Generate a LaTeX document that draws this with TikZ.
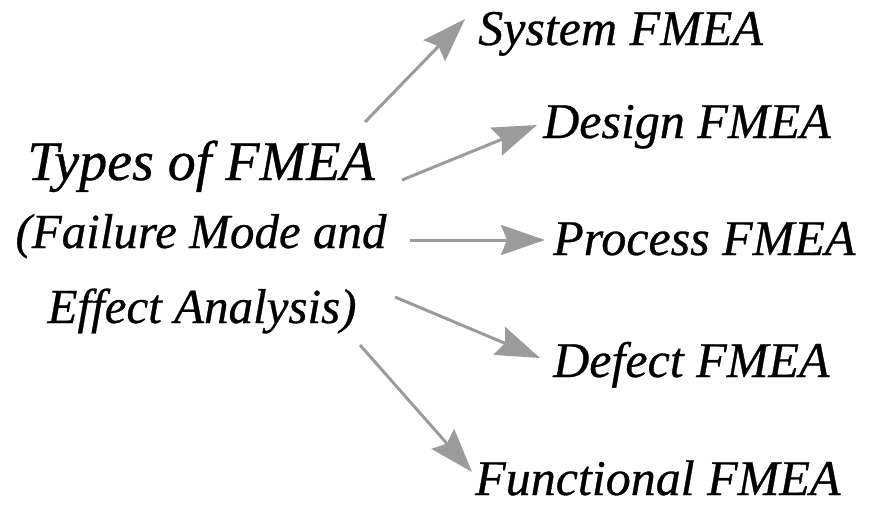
\documentclass[tikz,border=0pt]{standalone}
\usepackage{fontspec}
\setmainfont{Liberation Serif}
\newfontfamily\fmeafont{Liberation Serif}[ItalicFeatures={FakeBold=0.6}]
\usetikzlibrary{arrows.meta}
\definecolor{arrowgray}{HTML}{9B9B9B}
\tikzset{
  heading/.style={font=\fmeafont\fontsize{56}{60}\selectfont\itshape,inner sep=0,anchor=base},
  subline/.style={font=\fmeafont\fontsize{49}{56}\selectfont\itshape,inner sep=0,anchor=base},
  kind/.style={font=\fmeafont\fontsize{50}{60}\selectfont\itshape,inner sep=0,anchor=base west},
  branch/.style={draw=arrowgray,line width=3pt,-{Stealth[length=44pt,width=30pt,inset=6pt,fill=arrowgray]}}
}
\begin{document}
\begin{tikzpicture}[x=1pt,y=-1pt]
	\useasboundingbox (0,0) rectangle (872,506);
	% left block
	\node[heading] (title) at (201,180) {Types of FMEA};
	\node[subline] (fail) at (201,248) {(Failure Mode and};
	\node[subline] (effect) at (202,323) {Effect Analysis)};
	% right labels
	\node[kind] (system) at (478,45) {System FMEA};
	\node[kind] (design) at (543,138) {Design FMEA};
	\node[kind] (process) at (553,255) {Process FMEA};
	\node[kind] (defect) at (553,377) {Defect FMEA};
	\node[kind] (functional) at (475,495) {Functional FMEA};
	% arrow starts
	\coordinate (s1) at (365,122);
	\coordinate (s2) at (402,180);
	\coordinate (s3) at (410,240);
	\coordinate (s4) at (395,297);
	\coordinate (s5) at (360,345);
	\draw[branch] (s1) -- ([shift={(-13,-26)}]system.base west);
	\draw[branch] (s2) -- ([shift={(-6,-13)}]design.base west);
	\draw[branch] (s3) -- ([shift={(-8,-15)}]process.base west);
	\draw[branch] (s4) -- ([shift={(-13,-19)}]defect.base west);
	\draw[branch] (s5) -- ([shift={(-3,-23)}]functional.base west);
\end{tikzpicture}
\end{document}
